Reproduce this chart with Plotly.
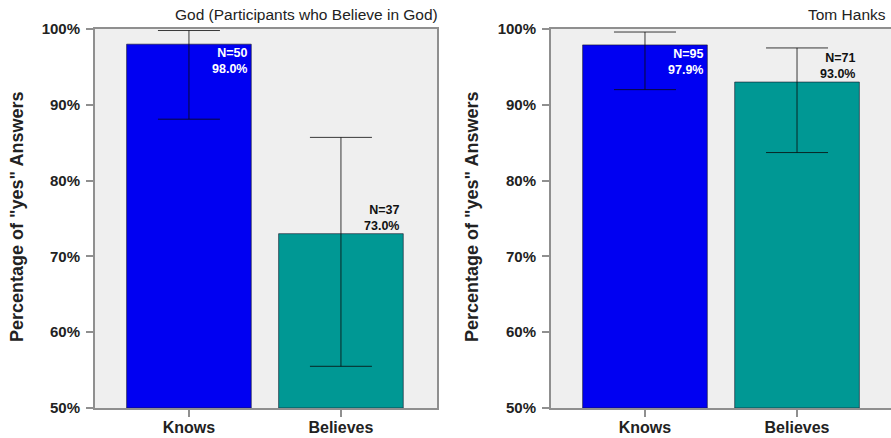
import plotly.graph_objects as go

# ---- data -------------------------------------------------------------
categories = ["Knows", "Believes"]

god_pct = [98.0, 73.0]
god_n = [50, 37]
god_err_hi = [99.8, 85.7]
god_err_lo = [88.1, 55.5]

hanks_pct = [97.9, 93.0]
hanks_n = [95, 71]
hanks_err_hi = [99.6, 97.5]
hanks_err_lo = [92.0, 83.7]

panel_titles = ["God (Participants who Believe in God)", "Tom Hanks"]
y_ticks = [50, 60, 70, 80, 90, 100]
y_tick_labels = [f"{t}%" for t in y_ticks]

# ---- styling ----------------------------------------------------------
W, H = 891, 438
BAR_COLORS = ["#0000F2", "#009894"]
BAR_WIDTH = 0.82
FONT = "Liberation Sans"
FRAME = "#8f8f8f"
PLOT_BG = "#efefef"

y_top_px, y_bot_px = 29, 408
y_dom = [(H - y_bot_px) / H, (H - y_top_px) / H]
x_doms = [[95 / W, 437 / W], [551 / W, 1.0]]
x_ranges = [[-0.618, 1.632], [-0.618, 1.618]]
title_right_px = [440, 888]
ytitle_x_px = [17, 472]

panels = [
    (god_pct, god_n, god_err_hi, god_err_lo),
    (hanks_pct, hanks_n, hanks_err_hi, hanks_err_lo),
]

fig = go.Figure()
annotations = []
xs = list(range(len(categories)))

for p, (pct, ns, hi, lo) in enumerate(panels):
    sfx = "" if p == 0 else str(p + 1)
    fig.add_trace(go.Bar(
        x=xs, y=[v - 50 for v in pct], base=50,
        width=BAR_WIDTH,
        marker=dict(color=BAR_COLORS, line=dict(color="rgba(20,20,40,0.6)", width=1)),
        error_y=dict(
            type="data", symmetric=False,
            array=[h - v for h, v in zip(hi, pct)],
            arrayminus=[v - l for v, l in zip(pct, lo)],
            color="rgba(10,10,10,0.8)", thickness=1, width=31,
        ),
        xaxis="x" + sfx, yaxis="y" + sfx,
        showlegend=False, hoverinfo="skip",
    ))

    # value labels: inside the tall first bar, above the second one
    for i, (v, n) in enumerate(zip(pct, ns)):
        inside = i == 0
        col = "white" if inside else "#111111"
        annotations.append(dict(
            x=i + BAR_WIDTH / 2, y=v, xref="x" + sfx, yref="y" + sfx,
            text=f"N={n}<br>{v:.1f}%", showarrow=False, align="right",
            xanchor="right", yanchor="top" if inside else "bottom",
            xshift=-3, yshift=-1 if inside else 0, borderpad=0,
            font=dict(family=FONT, size=12.5, color=col, weight="bold"),
        ))

    # panel title, right-aligned with the plot frame
    annotations.append(dict(
        x=title_right_px[p] / W, y=(H - 14) / H, xref="paper", yref="paper",
        text=panel_titles[p], showarrow=False, xanchor="right", yanchor="middle",
        font=dict(family=FONT, size=15.5, color="#222222"),
    ))

    # y-axis title
    annotations.append(dict(
        x=ytitle_x_px[p] / W, y=(H - 217) / H, xref="paper", yref="paper",
        text='Percentage of "yes" Answers', textangle=-90, showarrow=False,
        xanchor="center", yanchor="middle",
        font=dict(family=FONT, size=18, color="#222222", weight="bold"),
    ))

    fig.update_layout(**{
        "xaxis" + sfx: dict(
            domain=x_doms[p], range=x_ranges[p], anchor="y" + sfx,
            tickvals=xs, ticktext=categories,
            ticks="outside", ticklen=7, tickwidth=1.5, tickcolor=FRAME,
            ticklabelstandoff=-3,
            showline=True, linecolor=FRAME, linewidth=2, mirror=True,
            showgrid=False, zeroline=False, fixedrange=True, automargin=False,
            tickfont=dict(family=FONT, size=16, color="#222222", weight="bold"),
        ),
        "yaxis" + sfx: dict(
            domain=y_dom, range=[50, 100], anchor="x" + sfx,
            tickvals=y_ticks, ticktext=y_tick_labels,
            ticks="outside", ticklen=7, tickwidth=1.5, tickcolor=FRAME,
            ticklabelstandoff=3,
            showline=True, linecolor=FRAME, linewidth=2, mirror=(p == 0),
            showgrid=False, zeroline=False, fixedrange=True, automargin=False,
            tickfont=dict(family=FONT, size=15, color="#222222", weight="bold"),
        ),
    })

fig.update_layout(
    width=W, height=H, autosize=False,
    margin=dict(l=0, r=0, t=0, b=0, autoexpand=False),
    paper_bgcolor="white", plot_bgcolor=PLOT_BG,
    bargap=0.18, annotations=annotations,
)

fig.write_html("out.html", config={"displayModeBar": False})
